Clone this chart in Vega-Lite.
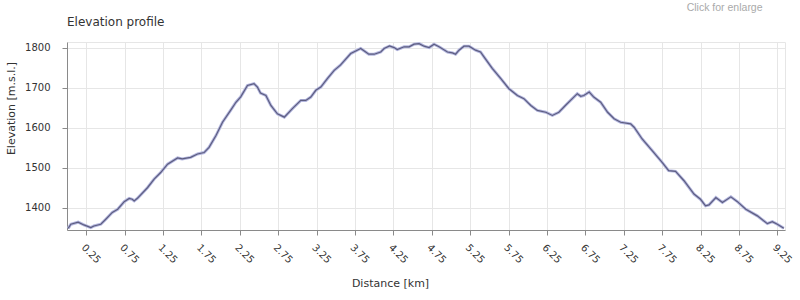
{
  "$schema": "https://vega.github.io/schema/vega-lite/v6.json",
  "padding": {"left": 5, "top": 2, "right": 5, "bottom": 5},
  "background": "white",
  "title": {"text": "Click for enlarge", "anchor": "end", "frame": "bounds", "font": "Liberation Sans", "fontSize": 10.5, "fontWeight": "normal", "color": "#aaaaaa", "dx": -31, "offset": 2},
  "config": {
    "view": {"stroke": "#e6e6e6"},
    "axis": {
      "domainColor": "#8a8a8a", "tickColor": "#8a8a8a", "gridColor": "#e6e6e6",
      "labelColor": "#333333", "labelFont": "DejaVu Sans", "labelFontSize": 10,
      "titleFont": "DejaVu Sans", "titleFontSize": 11, "titleFontWeight": "normal", "titleColor": "#333333",
      "tickSize": 5
    }
  },
  "vconcat": [
    {
      "width": 718,
      "height": 188,
      "title": {"text": "Elevation profile", "anchor": "start", "frame": "group", "font": "DejaVu Sans", "fontSize": 12, "fontWeight": "normal", "color": "#333333", "offset": 9},
      "data": {"values": [
        {"distance": 0.015, "elevation": 1348},
        {"distance": 0.05, "elevation": 1358.5},
        {"distance": 0.145, "elevation": 1363.5},
        {"distance": 0.22, "elevation": 1356.7},
        {"distance": 0.31, "elevation": 1350},
        {"distance": 0.35, "elevation": 1354},
        {"distance": 0.44, "elevation": 1358.5},
        {"distance": 0.505, "elevation": 1371},
        {"distance": 0.59, "elevation": 1388},
        {"distance": 0.66, "elevation": 1396},
        {"distance": 0.745, "elevation": 1415},
        {"distance": 0.81, "elevation": 1423},
        {"distance": 0.85, "elevation": 1421},
        {"distance": 0.875, "elevation": 1417},
        {"distance": 0.92, "elevation": 1424},
        {"distance": 1.05, "elevation": 1450.5},
        {"distance": 1.135, "elevation": 1471.7},
        {"distance": 1.22, "elevation": 1488},
        {"distance": 1.31, "elevation": 1509},
        {"distance": 1.44, "elevation": 1524.5},
        {"distance": 1.5, "elevation": 1522},
        {"distance": 1.61, "elevation": 1526},
        {"distance": 1.7, "elevation": 1534.5},
        {"distance": 1.785, "elevation": 1538},
        {"distance": 1.85, "elevation": 1551},
        {"distance": 1.94, "elevation": 1580.6},
        {"distance": 2.025, "elevation": 1614},
        {"distance": 2.13, "elevation": 1643.5},
        {"distance": 2.2, "elevation": 1664},
        {"distance": 2.26, "elevation": 1677},
        {"distance": 2.35, "elevation": 1706},
        {"distance": 2.435, "elevation": 1710.7},
        {"distance": 2.48, "elevation": 1702},
        {"distance": 2.52, "elevation": 1687},
        {"distance": 2.59, "elevation": 1681},
        {"distance": 2.655, "elevation": 1656},
        {"distance": 2.74, "elevation": 1635},
        {"distance": 2.83, "elevation": 1626.7},
        {"distance": 2.935, "elevation": 1648},
        {"distance": 3.045, "elevation": 1668.7},
        {"distance": 3.11, "elevation": 1668.7},
        {"distance": 3.175, "elevation": 1677},
        {"distance": 3.24, "elevation": 1694},
        {"distance": 3.305, "elevation": 1702},
        {"distance": 3.39, "elevation": 1723},
        {"distance": 3.48, "elevation": 1744},
        {"distance": 3.56, "elevation": 1757},
        {"distance": 3.695, "elevation": 1786},
        {"distance": 3.78, "elevation": 1794.5},
        {"distance": 3.825, "elevation": 1798.7},
        {"distance": 3.89, "elevation": 1790},
        {"distance": 3.93, "elevation": 1784.4},
        {"distance": 4.0, "elevation": 1784.4},
        {"distance": 4.085, "elevation": 1790},
        {"distance": 4.13, "elevation": 1798.7},
        {"distance": 4.2, "elevation": 1805},
        {"distance": 4.26, "elevation": 1801},
        {"distance": 4.3, "elevation": 1796},
        {"distance": 4.39, "elevation": 1803},
        {"distance": 4.455, "elevation": 1803},
        {"distance": 4.52, "elevation": 1809.6},
        {"distance": 4.585, "elevation": 1811},
        {"distance": 4.65, "elevation": 1804.5},
        {"distance": 4.715, "elevation": 1801},
        {"distance": 4.78, "elevation": 1809.6},
        {"distance": 4.845, "elevation": 1803},
        {"distance": 4.955, "elevation": 1790},
        {"distance": 5.02, "elevation": 1787.6},
        {"distance": 5.06, "elevation": 1784.4},
        {"distance": 5.105, "elevation": 1794.5},
        {"distance": 5.17, "elevation": 1804.5},
        {"distance": 5.235, "elevation": 1804.5},
        {"distance": 5.32, "elevation": 1794.5},
        {"distance": 5.385, "elevation": 1790},
        {"distance": 5.43, "elevation": 1777.6},
        {"distance": 5.54, "elevation": 1748.4},
        {"distance": 5.65, "elevation": 1723},
        {"distance": 5.755, "elevation": 1698},
        {"distance": 5.865, "elevation": 1681},
        {"distance": 5.95, "elevation": 1673},
        {"distance": 6.04, "elevation": 1656},
        {"distance": 6.125, "elevation": 1643.5},
        {"distance": 6.235, "elevation": 1639},
        {"distance": 6.32, "elevation": 1631},
        {"distance": 6.405, "elevation": 1639},
        {"distance": 6.49, "elevation": 1656},
        {"distance": 6.58, "elevation": 1673},
        {"distance": 6.645, "elevation": 1685.5},
        {"distance": 6.69, "elevation": 1679},
        {"distance": 6.73, "elevation": 1681},
        {"distance": 6.8, "elevation": 1689.6},
        {"distance": 6.86, "elevation": 1677},
        {"distance": 6.95, "elevation": 1664},
        {"distance": 7.04, "elevation": 1639},
        {"distance": 7.125, "elevation": 1622.6},
        {"distance": 7.21, "elevation": 1614},
        {"distance": 7.34, "elevation": 1610},
        {"distance": 7.385, "elevation": 1601.5},
        {"distance": 7.49, "elevation": 1572},
        {"distance": 7.62, "elevation": 1543},
        {"distance": 7.75, "elevation": 1513.5},
        {"distance": 7.835, "elevation": 1492.6},
        {"distance": 7.925, "elevation": 1491},
        {"distance": 8.035, "elevation": 1467.4},
        {"distance": 8.165, "elevation": 1434},
        {"distance": 8.25, "elevation": 1421},
        {"distance": 8.315, "elevation": 1404.5},
        {"distance": 8.36, "elevation": 1407},
        {"distance": 8.45, "elevation": 1425.4},
        {"distance": 8.535, "elevation": 1413},
        {"distance": 8.645, "elevation": 1427},
        {"distance": 8.73, "elevation": 1415},
        {"distance": 8.84, "elevation": 1396},
        {"distance": 8.99, "elevation": 1379.4},
        {"distance": 9.12, "elevation": 1360},
        {"distance": 9.185, "elevation": 1365},
        {"distance": 9.25, "elevation": 1358.5},
        {"distance": 9.335, "elevation": 1348.4}
      ]},
      "encoding": {
        "x": {
          "field": "distance", "type": "quantitative",
          "scale": {"domain": [0, 9.35], "nice": false, "zero": false},
          "axis": {
            "title": "Distance [km]",
            "values": [0.25, 0.75, 1.25, 1.75, 2.25, 2.75, 3.25, 3.75, 4.25, 4.75, 5.25, 5.75, 6.25, 6.75, 7.25, 7.75, 8.25, 8.75, 9.25],
            "format": ".2f", "labelAngle": 45, "labelPadding": 7, "labelFlush": false, "labelOverlap": false,
            "titleX": 323, "titlePadding": 13
          }
        },
        "y": {
          "field": "elevation", "type": "quantitative",
          "scale": {"domain": [1344, 1815], "nice": false, "zero": false},
          "axis": {
            "title": "Elevation [m.s.l.]",
            "values": [1400, 1500, 1600, 1700, 1800],
            "format": "d", "labelPadding": 12, "labelFlush": false,
            "titleY": 66, "titlePadding": 8
          }
        }
      },
      "layer": [
        {"mark": {"type": "line", "color": "#b3b6de", "strokeWidth": 3, "interpolate": "linear"}},
        {"mark": {"type": "line", "color": "#5d5d80", "strokeWidth": 1.2, "interpolate": "linear"}}
      ]
    }
  ]
}
